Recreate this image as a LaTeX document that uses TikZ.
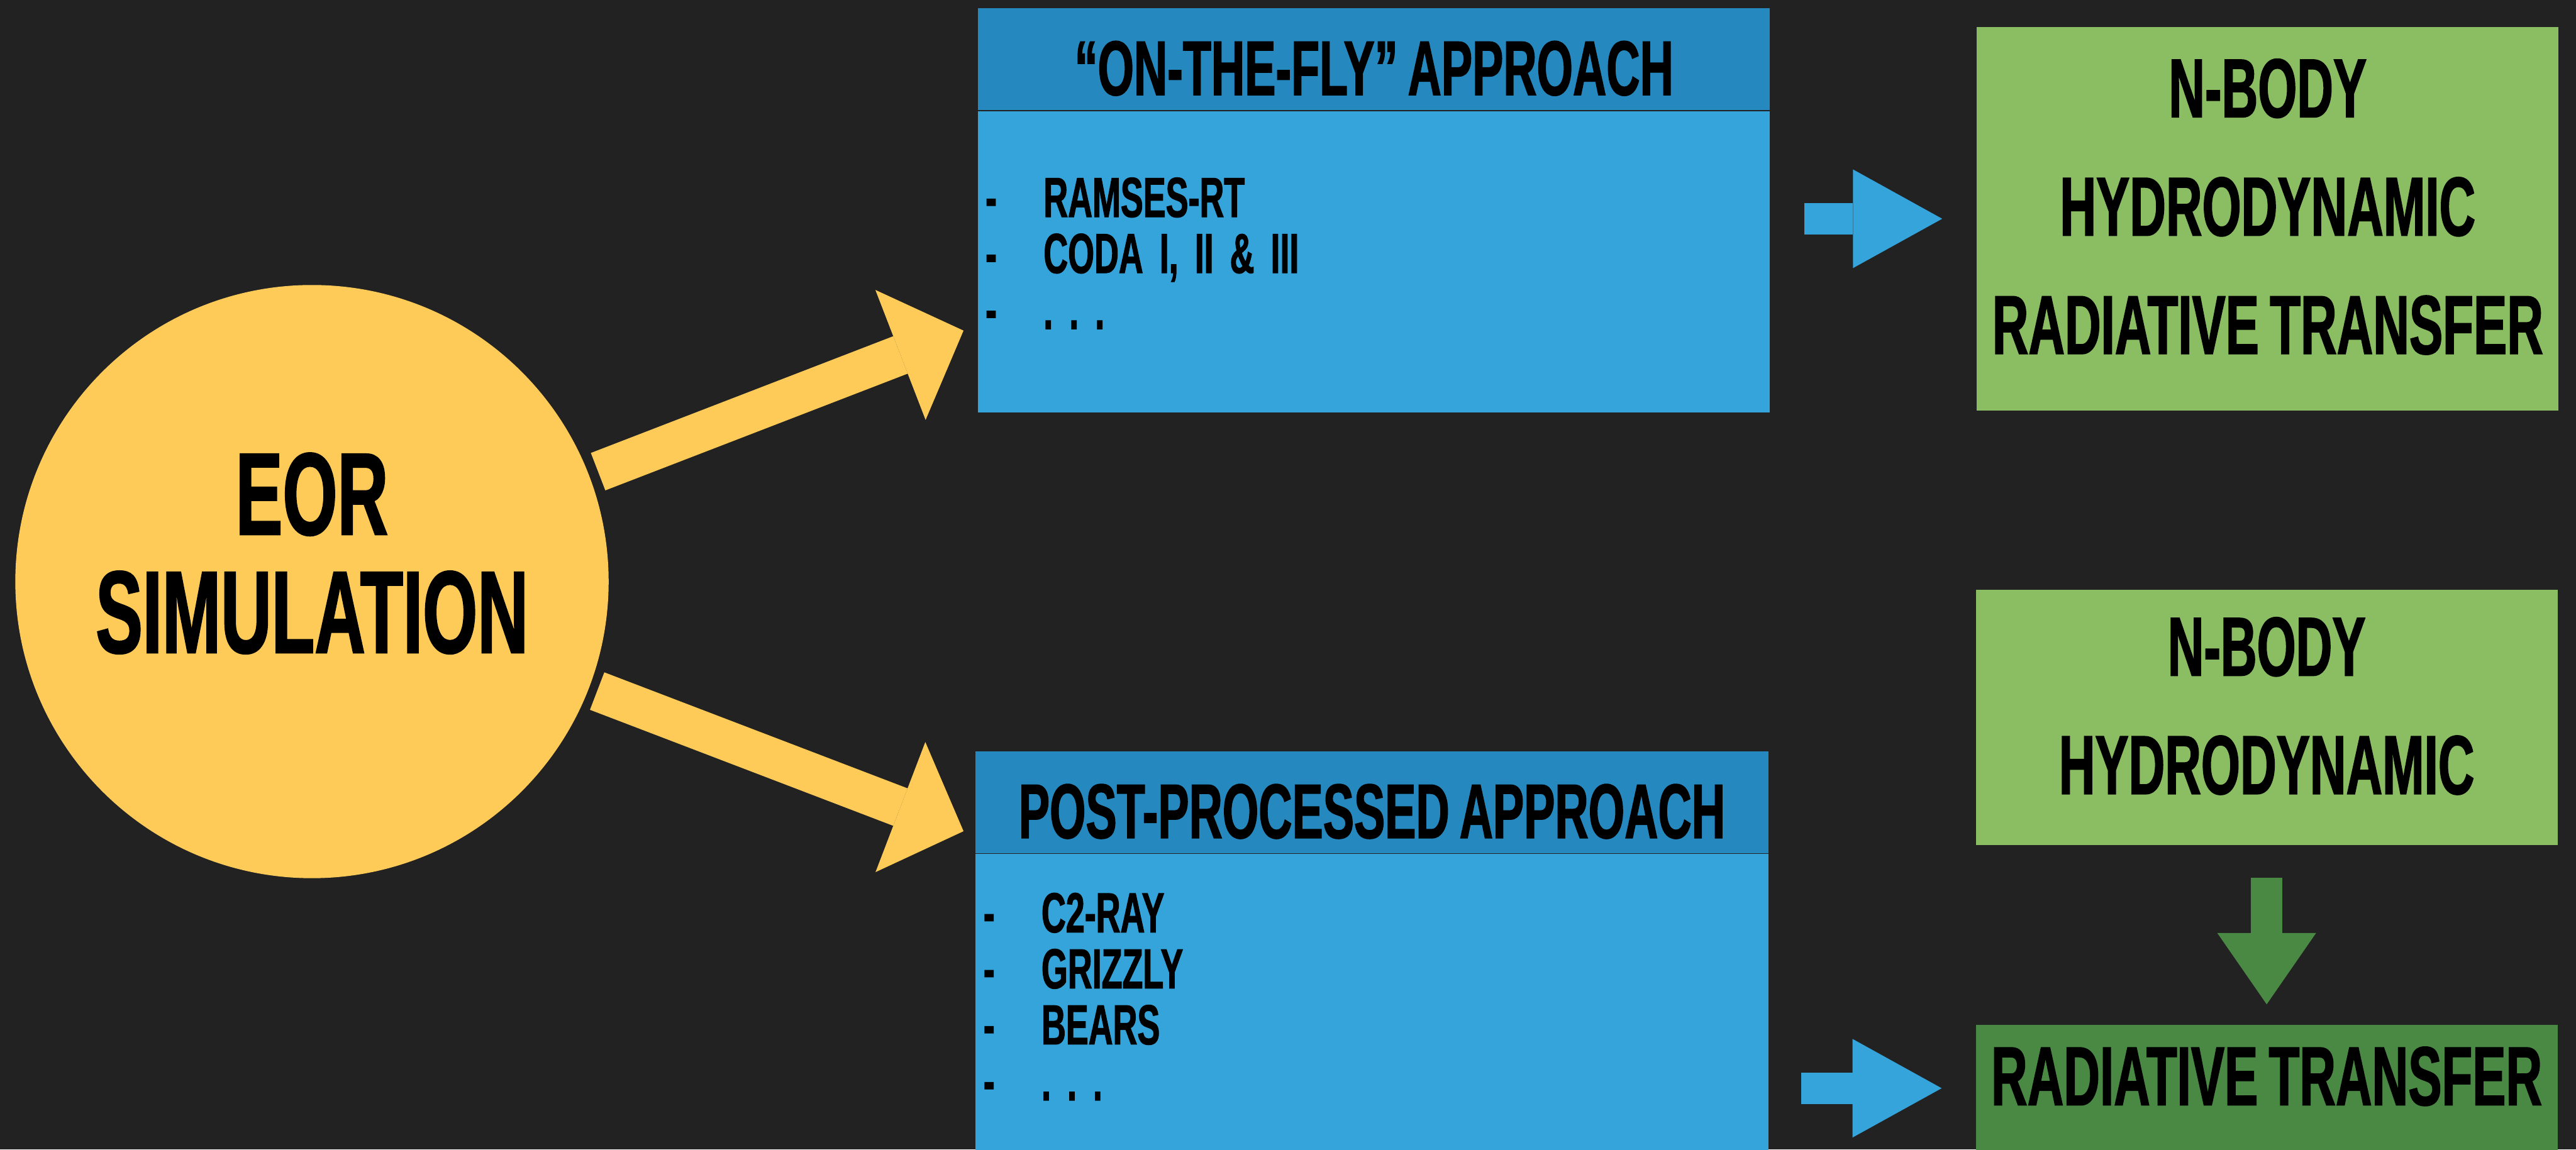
\documentclass[tikz,border=0pt]{standalone}
\usepackage{fontspec}
\setmainfont{Liberation Sans}[FakeStretch=0.6,WordSpace=0.78,FakeBold=1.2]
\usetikzlibrary{arrows.meta,positioning,calc}
\definecolor{coal}{RGB}{34,34,34}
\definecolor{sun}{RGB}{254,203,88}
\definecolor{sky}{RGB}{53,164,219}
\definecolor{deepsky}{RGB}{37,137,192}
\definecolor{leaf}{RGB}{139,190,98}
\definecolor{moss}{RGB}{74,137,67}
\newcommand{\itm}[1]{\spaceskip=0.29em\xspaceskip=0.29em\makebox[1.1cm][l]{-}#1}
\tikzset{
  fat/.style n args={4}{draw=#1,line width=#2,
    -{Triangle[length=#3,width=#4,line width=0pt]}},
  titlebar/.style={fill=deepsky,minimum width=15cm,minimum height=1.93cm,
    text height=1.35cm,text depth=0pt,inner sep=0pt,
    font=\bfseries\fontsize{41.7}{50}\selectfont},
  listbox/.style={fill=sky,minimum width=15cm,text width=14.72cm,
    inner xsep=0.14cm,inner ysep=0pt,align=left,
    font=\bfseries\fontsize{30.4}{30.2}\selectfont},
  physbox/.style={fill=#1,minimum width=11.02cm,inner sep=0pt,align=center,
    font=\bfseries\fontsize{45.1}{63.8}\selectfont},
  physbox/.default=leaf,
}

\begin{document}
\begin{tikzpicture}
  \fill[coal] (0,0) rectangle (48.8,-21.78);
  \useasboundingbox (0,0) rectangle (48.8,-21.78);
  \clip (0,0) rectangle (48.8,-21.78);

  \node[circle,fill=sun,minimum size=11.24cm,inner sep=0pt,align=center,
    font=\bfseries\fontsize{63.2}{63.7}\selectfont] (eor) at (5.91,-11.02)
    {EOR\\SIMULATION\rule[-1.09cm]{0pt}{0pt}};

  % simulation families
  \node[titlebar] (otfhead) at (26.03,-1.125) {``ON-THE-FLY'' APPROACH};
  \node[listbox,minimum height=5.71cm,below=0pt of otfhead] (otfbody)
    {\itm{RAMSES-RT}\\\itm{CODA I, II \& III}\\\itm{. . .}\rule[-0.32cm]{0pt}{0pt}};
  \node[titlebar,minimum width=15.02cm] (pphead) at (25.99,-15.205) {POST-PROCESSED APPROACH};
  \node[listbox,minimum width=15.02cm,minimum height=6.43cm,below=0pt of pphead] (ppbody)
    {\itm{C2-RAY}\\\itm{GRIZZLY}\\\itm{BEARS}\\\itm{. . .}\rule[-1.03cm]{0pt}{0pt}};

  % physics
  \node[physbox,minimum height=7.27cm] (ph1) at (42.96,-4.145)
    {N-BODY\\HYDRODYNAMIC\\RADIATIVE TRANSFER\rule[-0.47cm]{0pt}{0pt}};
  \node[physbox,minimum height=4.84cm] (ph2) at (42.94,-13.59)
    {N-BODY\\HYDRODYNAMIC\rule[-0.44cm]{0pt}{0pt}};
  \node[physbox=moss,minimum height=3.2cm,anchor=north] (rt) at (42.94,-19.41)
    {RADIATIVE TRANSFER\rule[-1.26cm]{0pt}{0pt}};

  \coordinate (rtin) at ([xshift=-6.4mm,yshift=-12.1mm]rt.north west);

  \draw[fat={sun}{7.6mm}{12.8mm}{26.4mm}] ([shift={(21.7:1.8mm)}]eor.21.7)
    -- ([xshift=-2.7mm,yshift=-13.05mm]otfbody.west);
  \draw[fat={sun}{7.6mm}{12.8mm}{26.4mm}] ([shift={(-21.3:1.6mm)}]eor.-21.3)
    -- ([xshift=-2.2mm,yshift=-5.45mm]pphead.west);
  \draw[fat={sky}{5.9mm}{16.9mm}{18.7mm}] ([xshift=6.4mm]otfbody.east |- ph1.west)
    -- ([xshift=-6.5mm]ph1.west);
  \draw[fat={sky}{5.9mm}{16.9mm}{18.7mm}] ([xshift=6.2mm]ppbody.east |- rtin) -- (rtin);
  \draw[fat={moss}{6mm}{13.5mm}{18.7mm}] ([yshift=-6.1mm]ph2.south)
    -- ([yshift=3.8mm]rt.north);
\end{tikzpicture}
\end{document}
